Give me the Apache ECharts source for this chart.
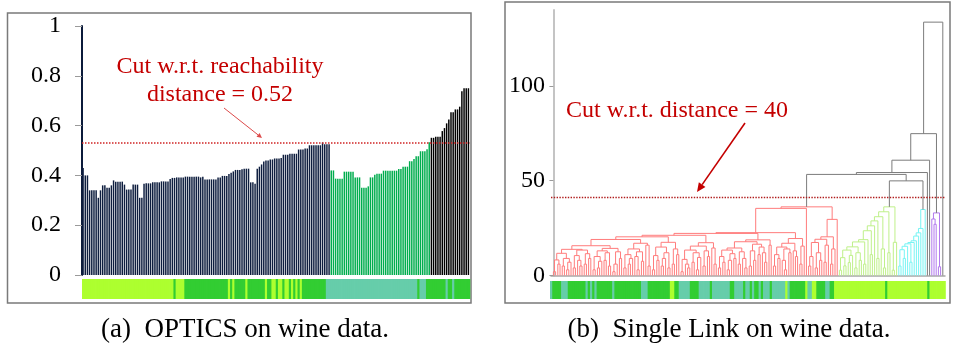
<!DOCTYPE html>
<html>
<head>
<meta charset="utf-8">
<script src="https://cdn.jsdelivr.net/npm/echarts@6/dist/echarts.min.js"></script>
<style>
html, body { margin: 0; padding: 0; background: #fff; }
#chart { width: 960px; height: 350px; }
</style>
</head>
<body>
<div id="chart"></div>
<script>
// ---- (a) OPTICS: reachability distance per point, in cluster order ----
const reachability = [
    0.43, 0.40, 0.40, 0.34, 0.34, 0.34, 0.34, 0.31, 0.34, 0.36,
    0.36, 0.35, 0.35, 0.36, 0.38, 0.375, 0.375, 0.375, 0.375, 0.363,
    0.343, 0.343, 0.343, 0.363, 0.363, 0.363, 0.31, 0.31, 0.366, 0.368,
    0.368, 0.368, 0.372, 0.372, 0.372, 0.372, 0.376, 0.376, 0.376, 0.376,
    0.386, 0.39, 0.39, 0.392, 0.392, 0.392, 0.392, 0.395, 0.395, 0.395,
    0.395, 0.395, 0.395, 0.395, 0.392, 0.395, 0.384, 0.384, 0.384, 0.384,
    0.384, 0.384, 0.392, 0.392, 0.398, 0.398, 0.398, 0.406, 0.411, 0.416,
    0.422, 0.422, 0.422, 0.425, 0.427, 0.427, 0.427, 0.372, 0.372, 0.366,
    0.427, 0.435, 0.444, 0.456, 0.46, 0.46, 0.464, 0.464, 0.468, 0.468,
    0.468, 0.47, 0.483, 0.483, 0.483, 0.487, 0.487, 0.487, 0.487, 0.504,
    0.504, 0.504, 0.508, 0.508, 0.521, 0.521, 0.521, 0.521, 0.521, 0.521,
    0.532, 0.525, 0.525, 0.525,
    0.42, 0.42, 0.387, 0.387, 0.387, 0.387,
    0.415, 0.415, 0.415, 0.415, 0.415, 0.392, 0.392, 0.392, 0.35, 0.35,
    0.35, 0.356, 0.392, 0.392, 0.403, 0.407, 0.407, 0.407, 0.419, 0.419,
    0.419, 0.419, 0.419, 0.419, 0.419, 0.426, 0.426, 0.435, 0.435, 0.435,
    0.457, 0.457, 0.466, 0.477, 0.477, 0.497, 0.497, 0.497, 0.505, 0.533,
    0.551, 0.551, 0.555, 0.555, 0.555, 0.578, 0.59, 0.609, 0.625, 0.654,
    0.654, 0.665, 0.665, 0.676, 0.738, 0.75, 0.75, 0.75
];
const reachClusterSizes = [114, 46, 18];
const reachClusterColors = ['#0e1e3f', '#00ad4e', '#000000'];
const reachCut = 0.53;
const reachTicks = [0, 0.2, 0.4, 0.6, 0.8, 1];

// true wine class of each point, run-length coded (y / g / a)
const leftStripRuns = [['y',42],['g',1],['y',4],['g',20],['y',1],['g',1],['y',1],['g',5],['y',1],['g',8],
    ['y',1],['g',2],['y',2],['g',1],['y',2],['g',1],['y',2],['g',1],['y',1],['g',1],['y',1],['g',1],['y',1],
    ['g',11],['a',42],['g',1],['a',3],['g',9],['a',1],['g',2],['a',1],['g',7]];
const rightStripRuns = [['a',1],['g',4],['a',3],['g',8],['a',1],['g',1],['a',1],['g',1],['a',1],['g',7],
    ['a',1],['g',12],['a',3],['g',10],['y',2],['g',2],['a',5],['g',4],['a',5],['g',1],['a',8],['g',2],['a',4],
    ['g',1],['a',2],['g',1],['a',1],['g',2],['a',1],['g',1],['a',3],['g',1],['a',6],['y',1],['a',1],['g',7],
    ['y',1],['a',2],['y',2],['g',4],['a',2],['g',2],['y',23],['g',1],['y',18],['g',1],['y',7]];
const classColors = { y: '#adff2f', g: '#32cd32', a: '#66cdaa' };

// ---- (b) Single link dendrogram: node = [left, right, height], leaf = 0 ----
const redA1 = [[[0,0,2],[0,0,6],8.2],[[0,0,5],[[0,0,3],0,7],9],11.7];
const redA2 = [[[0,0,4],[0,[0,0,5],8],10.5],[[0,0,6],[0,0,9],11.5],13.4];
const redA3 = [[[[0,0,3],[[0,0,4],0,7.5],10],[[0,0,8],[0,0,5],12],13],[[[0,0,2],0,6],[0,0,9],12.5],14.3];
const redB  = [[[[0,0,4],[[0,0,6],0,9],11],[[0,[0,0,3],10],[0,0,7.5],12.5],14],[0,[0,0,5],16],17];
const redC  = [[[[0,0,3],[0,0,8],10.5],[[[0,0,5],0,9],[0,0,4],12],15],[[0,0,6],[0,0,11],14],17.5];
const redD  = [[[[[0,0,2],[0,[0,0,4],6],8.5],[[0,0,7],[[0,0,3],0,9.5],12],13.4],[[0,0,5],[0,0,10],13],15.5],[0,[0,0,6],14.5],17.3];
const redE  = [[[[[[0,0,4],[0,0,7],10],[[[0,0,3],0,8],[0,0,9],11.5],13.4],[[0,0,6],[0,[0,0,4],9],12.5],14.5],
               [[[0,0,5],[0,0,8],13],[[0,0,11],[0,[0,0,7],12],15],16.5],17.8],[0,0,16],18.8];
const redF  = [[[[[0,0,5],[0,0,9],11],[[0,[0,0,3],8],[0,0,12],14],15],[0,[0,0,10],13],17],[[0,0,6],0,15.5],19.5];
const redS  = [[[[[0,0,5],0,10],[[0,0,4],[0,0,8],12],17.4],[[0,0,7],0,16],19.1],[[0,0,6],0,14],20.4];
// red chain: (((((((A1 A2) A3) B) C) D) E) F) + one leaf, joined with S + one leaf
const redLeft = [[[[[[[[redA1, redA2, 13.8], redA3, 15.7], redB, 19], redC, 20.4], redD, 21.2], redE, 22.2], redF, 22.6], 0, 35.4];
const redRight = [redS, 0, 29.6];
const redTree = [redLeft, redRight, 36.2];

const greenCore = [[[[0,0,2.8],[0,0,5.1],9.4],[[0,0,6.8],0,10.6],13.4],[[0,0,4],[0,0,8],12],15.1];
const greenSteps = [[[0,0,6],17.7],[0,18.9],[[0,0,11],23.6],[0,26.2],[[0,0,9],28.8],[[0,[0,0,4],14],31],
    [[0,0,12],33.6],[[[0,0,2.8],0,17.5],36.2]];
const cyanCore = [[0,0,5],[0,0,9],13.6];
const cyanSteps = [[0,15.4],[[0,0,7],16.7],[0,17.4],[0,18.3],[0,20.8],[0,22.5],[0,24.8],[0,34.8]];
const purpleTree = [[0,[0,0,27],29.8],[0,0,4.6],33];

// clusters joined above the cut, plus the three outliers
const rootTree = [[[[['red',['green','cyan',49.9],53.3],0,54.3],0,60.8],'purple',74.8],0,133.6];
const dendroCut = 41;
const distTicks = [0, 50, 100];
const linkColors = { gray: '#7c7c7c', red: '#ff7c7c', green: '#bff08a', cyan: '#78f4f4', purple: '#b27aee' };

// ---------------------------------------------------------------
function chainTree(core, steps) {
    return steps.reduce((t, s) => [t, s[0], s[1]], core);
}
const clusterTrees = {
    red: redTree,
    green: chainTree(greenCore, greenSteps),
    cyan: chainTree(cyanCore, cyanSteps),
    purple: purpleTree
};

function expandRuns(runs) {
    let out = [];
    runs.forEach(r => { for (let i = 0; i < r[1]; i++) out.push(r[0]); });
    return out;
}

let dendroLinks = [];
let linkColorList = [];
let leafCount = 0;
function walkTree(node, color) {
    if (typeof node === 'string') return walkTree(clusterTrees[node], node);
    if (node === 0) return { x: leafCount++, h: 0 };
    let l = walkTree(node[0], color);
    let r = walkTree(node[1], color);
    dendroLinks.push([l.x, r.x, node[2], l.h, r.h]);
    linkColorList.push(linkColors[color]);
    return { x: (l.x + r.x) / 2, h: node[2] };
}
walkTree(rootTree, 'gray');

let barData = [];
let pos = 0;
reachClusterSizes.forEach((n, ci) => {
    for (let i = 0; i < n; i++, pos++) {
        barData.push({ value: reachability[pos], itemStyle: { color: reachClusterColors[ci] } });
    }
});

let leftClasses = expandRuns(leftStripRuns);
let rightClasses = expandRuns(rightStripRuns);
let pointIndex = reachability.map((v, i) => i);

function stripSeries(xi, classes) {
    return {
        type: 'custom', xAxisIndex: xi, yAxisIndex: xi, silent: true,
        data: classes.map((c, i) => [i, 1]),
        encode: { x: 0, y: 1 },
        renderItem: function (params, api) {
            let top = api.coord([api.value(0), 1]);
            let size = api.size([1, 1]);
            return { type: 'rect',
                     shape: { x: top[0] - size[0] / 2, y: top[1], width: size[0] + 0.8, height: size[1] },
                     style: { fill: classColors[classes[params.dataIndex]] } };
        }
    };
}

const serifFont = 'Liberation Serif';
const noteRed = '#c40000';

function arrowShapes(x1, y1, x2, y2, len, half, color, lw) {
    let dx = x2 - x1, dy = y2 - y1, d = Math.sqrt(dx * dx + dy * dy);
    let ux = dx / d, uy = dy / d;
    let bx = x2 - ux * len, by = y2 - uy * len;
    return [
        { type: 'line', shape: { x1: x1, y1: y1, x2: bx, y2: by }, style: { stroke: color, lineWidth: lw } },
        { type: 'polygon', shape: { points: [[x2, y2], [bx - uy * half, by + ux * half], [bx + uy * half, by - ux * half]] },
          style: { fill: color } }
    ];
}

let myChart = echarts.init(document.getElementById('chart'));

let option = {
    animation: false,
    backgroundColor: '#fff',
    grid: [
        { left: 82, right: 490.5, top: 26, bottom: 75 },
        { left: 82, right: 490.5, top: 279, height: 20 },
        { left: 551, right: 15, top: 10, bottom: 74.5 },
        { left: 550, right: 15, top: 281, height: 18 }
    ],
    xAxis: [
        { gridIndex: 0, type: 'category', data: pointIndex, show: false },
        { gridIndex: 1, type: 'category', data: pointIndex, show: false },
        { gridIndex: 2, type: 'value', min: -1.1, max: 178,
          axisLine: { show: true, onZero: false, lineStyle: { color: '#a8a8a8', width: 1.5 } },
          axisTick: { show: false }, axisLabel: { show: false }, splitLine: { show: false } },
        { gridIndex: 3, type: 'category', data: pointIndex, show: false }
    ],
    yAxis: [
        { gridIndex: 0, type: 'value', min: 0, max: 1, interval: 0.2,
          axisLine: { show: true, lineStyle: { color: '#0b1a3a', width: 2 } },
          axisTick: { show: true, length: 7, lineStyle: { color: '#9a9a9a' }, customValues: reachTicks },
          axisLabel: { margin: 21, fontFamily: serifFont, fontSize: 24, color: '#000', customValues: reachTicks },
          splitLine: { show: false } },
        { gridIndex: 1, type: 'value', min: 0, max: 1, show: false },
        { gridIndex: 2, type: 'value', min: 0, max: 140, interval: 50,
          axisLine: { show: true, lineStyle: { color: '#c4c4c4', width: 2 } },
          axisTick: { show: true, length: 4, lineStyle: { color: '#9a9a9a' }, customValues: distTicks },
          axisLabel: { margin: 6, fontFamily: serifFont, fontSize: 24, color: '#000', customValues: distTicks,
                       formatter: v => (v % 50 === 0 ? String(v) : '') },
          splitLine: { show: false } },
        { gridIndex: 3, type: 'value', min: 0, max: 1, show: false }
    ],
    series: [
        { type: 'bar', xAxisIndex: 0, yAxisIndex: 0, data: barData, barCategoryGap: '32%', silent: true,
          markLine: { silent: true, symbol: 'none', label: { show: false },
                      lineStyle: { color: '#d02424', type: 'dotted', width: 1.5 },
                      data: [{ yAxis: reachCut }] } },
        stripSeries(1, leftClasses),
        { type: 'custom', xAxisIndex: 2, yAxisIndex: 2, data: dendroLinks, silent: true,
          encode: { x: [0, 1], y: [2] },
          renderItem: function (params, api) {
              let pts = [
                  api.coord([api.value(0), api.value(3)]),
                  api.coord([api.value(0), api.value(2)]),
                  api.coord([api.value(1), api.value(2)]),
                  api.coord([api.value(1), api.value(4)])
              ];
              return { type: 'polyline', shape: { points: pts },
                       style: { stroke: linkColorList[params.dataIndex], fill: 'none', lineWidth: 1 } };
          } },
        { type: 'line', xAxisIndex: 2, yAxisIndex: 2, data: [], silent: true,
          markLine: { silent: true, symbol: 'none', label: { show: false },
                      lineStyle: { color: '#b01c1c', type: 'dotted', width: 1.4 },
                      data: [{ yAxis: dendroCut }] } },
        stripSeries(3, rightClasses)
    ],
    graphic: {
        elements: [
            { type: 'rect', shape: { x: 7.5, y: 13, width: 463.5, height: 290 },
              style: { fill: 'none', stroke: '#7a7a7a', lineWidth: 1.5 } },
            { type: 'rect', shape: { x: 505, y: 2, width: 445, height: 301 },
              style: { fill: 'none', stroke: '#7a7a7a', lineWidth: 1.5 } },
            { type: 'text', x: 220, y: 67, style: { text: 'Cut w.r.t. reachability', fill: noteRed,
              font: '24px "Liberation Serif"', textAlign: 'center', textVerticalAlign: 'middle' } },
            { type: 'text', x: 220, y: 95, style: { text: 'distance = 0.52', fill: noteRed,
              font: '24px "Liberation Serif"', textAlign: 'center', textVerticalAlign: 'middle' } },
            { type: 'text', x: 677, y: 111, style: { text: 'Cut w.r.t. distance = 40', fill: noteRed,
              font: '24px "Liberation Serif"', textAlign: 'center', textVerticalAlign: 'middle' } },
            { type: 'text', x: 245, y: 330, style: { text: '(a)  OPTICS on wine data.', fill: '#000',
              font: '27px "Liberation Serif"', textAlign: 'center', textVerticalAlign: 'middle' } },
            { type: 'text', x: 729, y: 330, style: { text: '(b)  Single Link on wine data.', fill: '#000',
              font: '27px "Liberation Serif"', textAlign: 'center', textVerticalAlign: 'middle' } }
        ].concat(arrowShapes(224, 108, 262, 138, 5, 2.5, '#dd4a4a', 1))
         .concat(arrowShapes(745, 123, 697, 192, 9, 4, noteRed, 1.6))
    }
};

myChart.setOption(option);
window.addEventListener('resize', () => myChart.resize());
</script>
</body>
</html>
